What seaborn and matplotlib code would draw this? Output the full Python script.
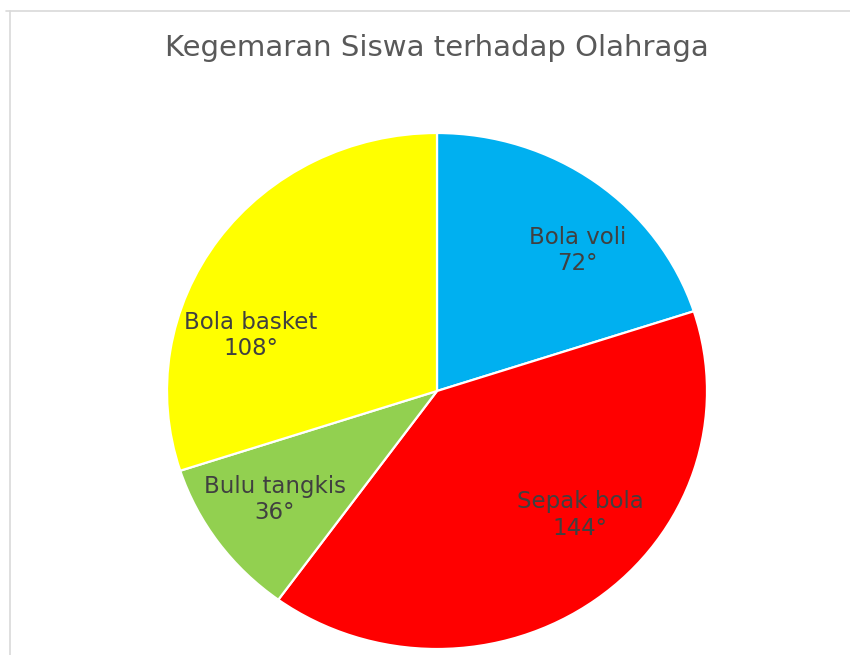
import matplotlib
matplotlib.use("Agg")
import matplotlib.pyplot as plt
from matplotlib.lines import Line2D
import seaborn as sns

# Data: preferred sports of students, given as pie-slice angles in degrees
sports = ["Bola voli", "Sepak bola", "Bulu tangkis", "Bola basket"]
degrees = [72, 144, 36, 108]
slice_colors = ["#00B0F0", "#FF0000", "#92D050", "#FFFF00"]
title = "Kegemaran Siswa terhadap Olahraga"

# Label anchor points inside each slice (axes data units, radius = 1)
label_pos = [(0.52, 0.545), (0.53, -0.48), (-0.60, -0.42), (-0.69, 0.215)]

sns.set_theme(style="white")
plt.rcParams["font.family"] = ["DejaVu Sans"]

W, H = 850, 655
fig = plt.figure(figsize=(W / 100, H / 100), dpi=100)
fig.patch.set_facecolor("white")

ax = fig.add_axes([0, 0, 1, 1])
wedges, _ = ax.pie(
    degrees,
    colors=slice_colors,
    startangle=90,
    counterclock=False,
    wedgeprops=dict(edgecolor="white", linewidth=1.6),
)

# Pie is slightly wider than tall: 270 px horizontal, 258 px vertical radius
cx, cy = 437, 264  # centre in pixels from left / bottom
rx, ry = 270, 258
ax.set_aspect("auto")
ax.set_xlim(-cx / rx, (W - cx) / rx)
ax.set_ylim(-cy / ry, (H - cy) / ry)
ax.axis("off")

for name, deg, (x, y) in zip(sports, degrees, label_pos):
    ax.text(x, y, f"{name}\n{deg}°", ha="center", va="center",
            fontsize=16.5, color="#404040", linespacing=1.2)

fig.text(437 / W, 1 - 48 / H, title, ha="center", va="center",
         fontsize=21, color="#595959")

# Thin frame lines along the top and left edges
fig.add_artist(Line2D([6 / W, 1], [1 - 11 / H, 1 - 11 / H],
                      transform=fig.transFigure, color="#d9d9d9", lw=1.2))
fig.add_artist(Line2D([9.5 / W, 9.5 / W], [0, 1 - 11 / H],
                      transform=fig.transFigure, color="#d9d9d9", lw=1.2))

fig.savefig("out.png", dpi=100, facecolor="white")
